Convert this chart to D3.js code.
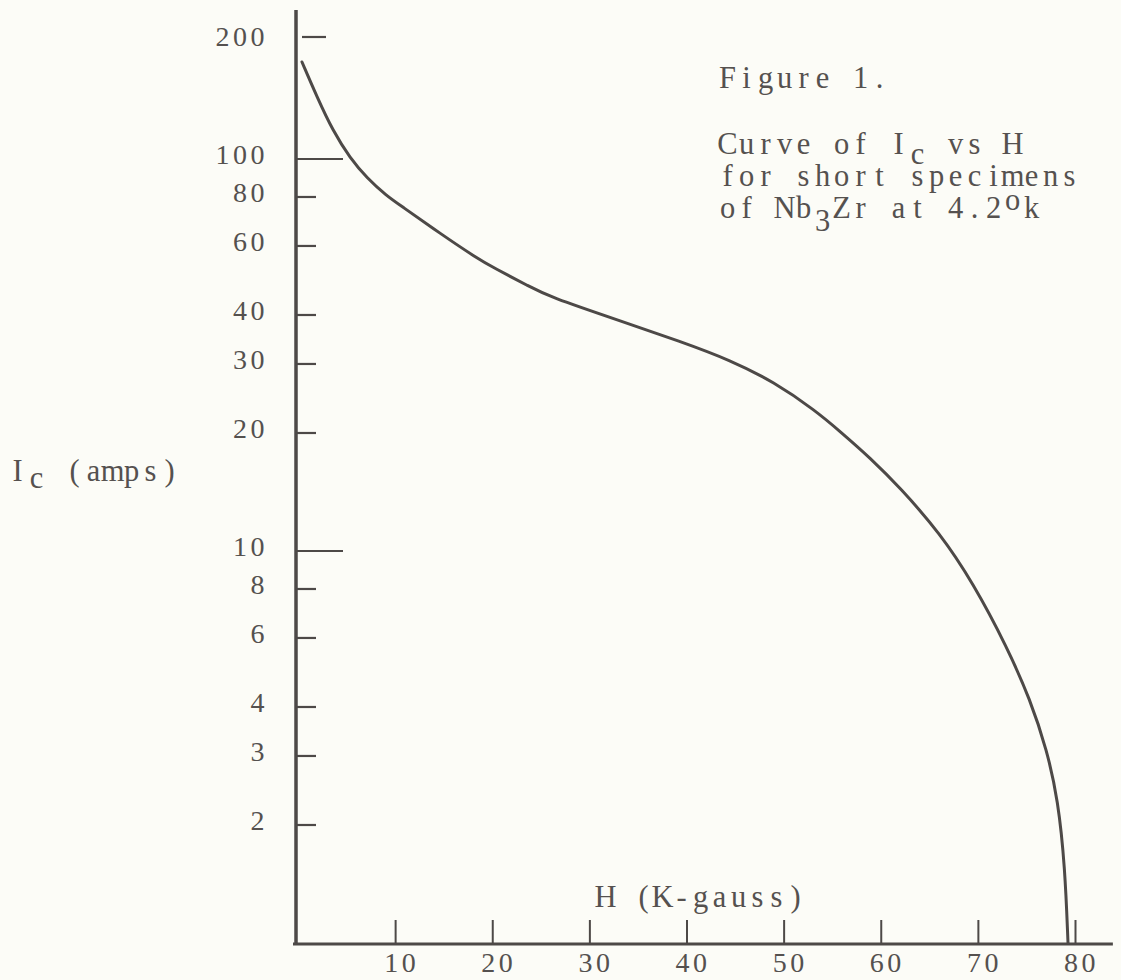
<!DOCTYPE html>
<html>
<head>
<meta charset="utf-8">
<script src="https://cdn.jsdelivr.net/npm/d3@7"></script>
<style>
  html, body { margin: 0; padding: 0; background: #fcfcf7; }
  svg { display: block; }
  text { font-family: "Liberation Serif", "DejaVu Serif", serif; fill: #55514f; }
</style>
</head>
<body>
<svg width="1121" height="980"></svg>
<script>
const width = 1121;
const height = 980;

// H in K-gauss and Ic in amps
var field   = [0.41, 1.96, 3.60, 5.35, 7.10, 9.16, 10.5, 14.7, 18.4, 20.2, 23.9, 25.7, 33.5, 39.3, 44.5, 49.0, 53.3, 55.8, 58.9, 62.0, 66.1, 69.5, 73.0, 75.4, 77.1, 78.25, 78.97, 79.28];
var current = [176.8, 143.9, 117.9, 100.6, 89.4, 80.4, 76.3, 64.4, 55.9, 52.7, 47.2, 44.7, 38.4, 34.3, 30.7, 27.0, 22.8, 20.2, 17.3, 14.5, 11.1, 8.29, 5.69, 4.17, 3.11, 2.32, 1.56, 1.0];

var xTicks = [10, 20, 30, 40, 50, 60, 70, 80];
var yTicks = [2, 3, 4, 6, 8, 10, 20, 30, 40, 60, 80, 100, 200];
var majorTicks = [10, 100];
var xEnd = 83.9;
var yTop = 240;

var svg = d3.select("svg");
var ink = "#4d4947";
var cell = 19;      // typewriter pitch
var big = 30.5;

var x = d3.scaleLinear().domain([0, 80]).range([298, 1075]);
var y = d3.scaleLog().domain([1, 100]).range([943, 159]);

svg.append("rect").attr("width", width).attr("height", height).attr("fill", "#fcfcf7");

// typed text: every character centred in a fixed-width cell, parts may drop or rise
function typed(x0, y0, parts) {
    var t = svg.append("text").attr("font-size", big).attr("text-anchor", "middle");
    var col = 0;
    parts.forEach(function (p) {
        var chars = p[0].split("");
        t.append("tspan")
            .attr("x", chars.map((c, i) => (x0 + (col + i + 0.5) * cell).toFixed(1)).join(" "))
            .attr("y", y0 + p[1])
            .text(p[0]);
        col += chars.length;
    });
    return t;
}

// y axis: ticks point into the plot, labels sit well to the left
var yAxis = svg.append("g")
    .attr("transform", "translate(300,-4)")
    .call(d3.axisLeft(y).tickValues(yTicks).tickFormat(d3.format("d")).tickSize(0).tickPadding(32));
yAxis.select(".domain").remove();
yAxis.selectAll("text")
    .attr("font-size", 28).attr("font-family", null)
    .attr("letter-spacing", 3.5)
    .attr("fill", "#5a5654");

svg.append("g").selectAll("line")
    .data(yTicks)
    .join("line")
    .attr("x1", d => d == 200 ? 302 : 296)
    .attr("x2", d => majorTicks.includes(d) ? 343 : (d == 200 ? 326 : 316))
    .attr("y1", d => y(d) - (d == 200 ? 4 : 0))
    .attr("y2", d => y(d) - (d == 200 ? 4 : 0))
    .attr("stroke", ink)
    .attr("stroke-width", 2.2);

// x axis: ticks drawn upward from the baseline
var xAxis = svg.append("g")
    .attr("transform", "translate(0,944)")
    .call(d3.axisBottom(x).tickValues(xTicks).tickSizeInner(-24).tickSizeOuter(0).tickPadding(8));
xAxis.select(".domain").remove();
xAxis.selectAll(".tick line").attr("stroke", ink).attr("stroke-width", 2);
xAxis.selectAll("text")
    .attr("font-size", 28).attr("font-family", null)
    .attr("letter-spacing", 3.5)
    .attr("fill", "#5a5654")
    .attr("dx", 6);

// axis lines
svg.append("line")
    .attr("x1", x(0) - 2).attr("x2", x(0) - 2)
    .attr("y1", y(yTop)).attr("y2", y(1) + 2)
    .attr("stroke", ink).attr("stroke-width", 3.5);
svg.append("line")
    .attr("x1", x(0) - 5).attr("x2", x(xEnd))
    .attr("y1", y(1) + 1).attr("y2", y(1) + 1)
    .attr("stroke", ink).attr("stroke-width", 3);

// the curve
var pts = d3.zip(field, current);
var line = d3.line()
    .x(d => x(d[0]))
    .y(d => y(d[1]))
    .curve(d3.curveBasis);

svg.append("path")
    .datum(pts)
    .attr("d", line)
    .attr("fill", "none")
    .attr("stroke", ink)
    .attr("stroke-width", 3)
    .attr("stroke-linecap", "round");

// titles
typed(596, 907, [["H (K-gauss)", 0]]);
typed(8, 481, [["I", 0], ["c", 7], [" (amps)", 0]]);

// caption block
typed(718, 88, [["Figure 1.", 0]]);
typed(718, 154, [["Curve of I", 0], ["c", 10], [" vs H", 0]]);
typed(718, 186, [["for short specimens", 0]]);
typed(718, 218, [["of Nb", 0], ["3", 13], ["Zr at 4.2", 0], ["o", -8], ["k", 0]]);
</script>
</body>
</html>
